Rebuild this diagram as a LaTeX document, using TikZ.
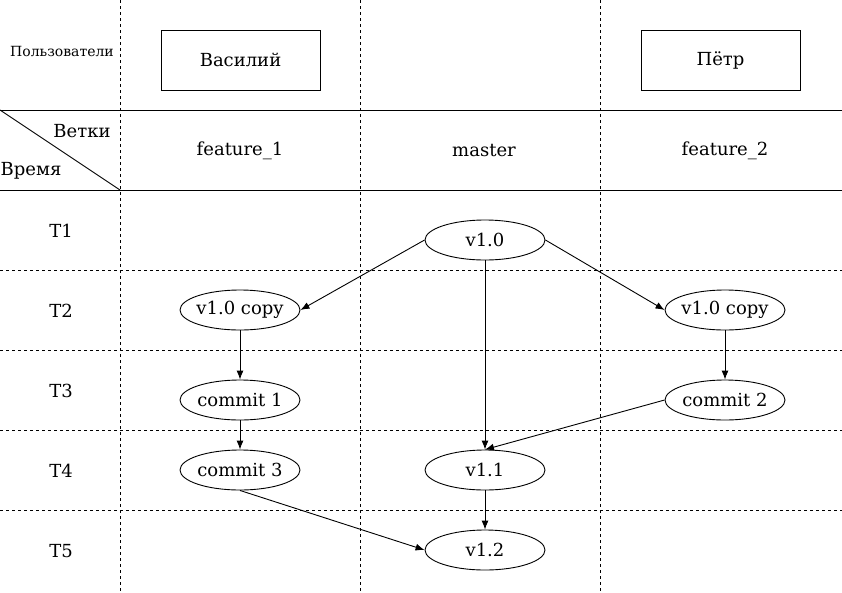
\documentclass[tikz,border=0pt]{standalone}
\usepackage{fontspec}
\setmainfont{DejaVu Serif}
\usetikzlibrary{shapes.geometric,arrows.meta}
\tikzset{
  vers/.style={ellipse,draw,minimum width=120pt,minimum height=40pt,inner xsep=-6pt,inner ysep=0pt,font=\fontsize{18}{21}\selectfont},
  user/.style={rectangle,draw,minimum width=159pt,minimum height=60pt,font=\fontsize{18}{21}\selectfont},
  lbl/.style={font=\fontsize{18}{21}\selectfont},
  link/.style={-{Latex[length=9pt,width=7pt]}},
  sep/.style={dash pattern=on 3pt off 3pt}
}
\begin{document}
\begin{tikzpicture}[x=1pt,y=-1pt,line width=0.9pt]
    \useasboundingbox (0,0) rectangle (842,592);
    % grid
    \foreach \x in {120,360,600}
      \draw[sep] (\x,0) -- (\x,592);
    \foreach \y in {270,350,430,510}
      \draw[sep] (0,\y) -- (842,\y);
    \draw (0,110) -- (842,110);
    \draw (0,190) -- (842,190);
    \draw (0,110) -- (120,190);
    % header
    \node[font=\fontsize{14}{16}\selectfont] (users) at (62,51) {Пользователи};
    \node[user] (vasily) at (240.5,60) {Василий};
    \node[user] (petr) at (720.5,60) {Пётр};
    \node[lbl] (branches) at (82,131) {Ветки};
    \node[lbl] (time) at (31,171) {Время};
    \node[lbl] (f1) at (240,151) {feature\_1};
    \node[lbl] (master) at (484,151) {master};
    \node[lbl] (f2) at (725,151) {feature\_2};
    \foreach \t/\y in {1/231,2/311,3/391,4/471,5/551}
      \node[lbl] (t\t) at (61,\y) {T\t};
    % versions
    \node[vers] (v10) at (485,240) {v1.0};
    \node[vers] (copyL) at (240,310) {v1.0 copy};
    \node[vers] (copyR) at (725,310) {v1.0 copy};
    \node[vers] (c1) at (240,400) {commit 1};
    \node[vers] (c2) at (725,400) {commit 2};
    \node[vers] (c3) at (240,470) {commit 3};
    \node[vers] (v11) at (485,470) {v1.1};
    \node[vers] (v12) at (485,550) {v1.2};
    % links
    \draw[link] (v10.west) -- (copyL.east);
    \draw[link] (v10.east) -- (copyR.west);
    \draw[link] (v10) -- (v11);
    \draw[link] (copyL) -- (c1);
    \draw[link] (copyR) -- (c2);
    \draw[link] (c1) -- (c3);
    \draw[link] (c2.west) -- (v11.north);
    \draw[link] (c3.south) -- (v12.west);
    \draw[link] (v11) -- (v12);
\end{tikzpicture}
\end{document}
